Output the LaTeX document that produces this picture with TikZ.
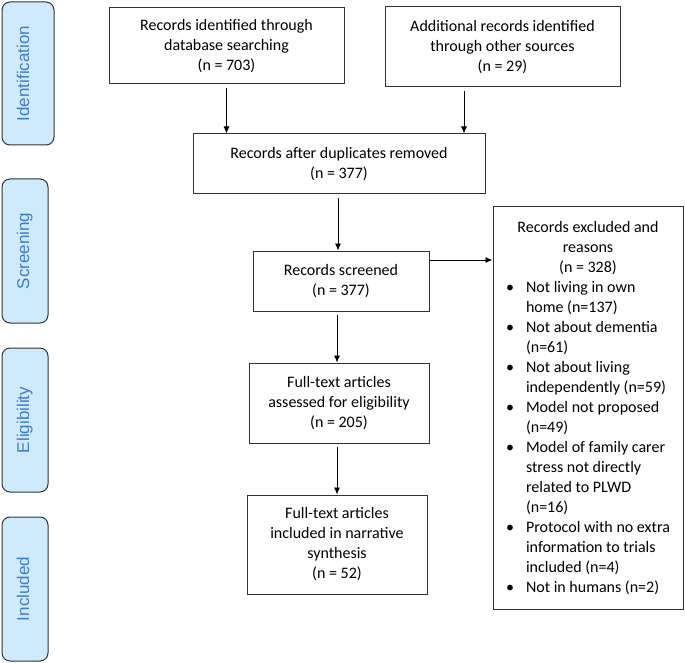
\documentclass[tikz,border=0pt]{standalone}
\usepackage{fontspec}
\setmainfont{Carlito}
\newfontfamily\pillfont{Liberation Sans}
\usetikzlibrary{arrows.meta,calc}
\definecolor{pillfill}{HTML}{CFEAFC}
\definecolor{pilltxt}{HTML}{3E7EC6}
\definecolor{edge}{HTML}{333333}
\begin{document}
\begin{tikzpicture}[x=1pt,y=1pt,
  box/.style={draw=edge, line width=1pt, align=center, font=\fontsize{16}{20}\selectfont, inner sep=0pt},
  pill/.style={draw=edge, fill=pillfill, rounded corners=8pt, line width=1pt},
  pilltext/.style={text=pilltxt, font=\pillfont\fontsize{17}{20}\selectfont, rotate=90, anchor=base, inner sep=0pt},
  arr/.style={-{Latex[length=7pt,width=6pt]}, line width=0.9pt, shorten <=3.5pt}]
\useasboundingbox (0,0) rectangle (685,-663);

% phase pills
\node[pill, minimum width=52, minimum height=143] (pid) at (28,-73.5) {};
\node[pilltext] (tid) at (29,-73.5) {Identification};
\node[pill, minimum width=46, minimum height=144] (pscr) at (25,-251) {};
\node[pilltext] (tscr) at (29,-251) {Screening};
\node[pill, minimum width=46, minimum height=144] (pel) at (25,-420) {};
\node[pilltext] (tel) at (29,-420) {Eligibility};
\node[pill, minimum width=46, minimum height=144] (pinc) at (25,-589) {};
\node[pilltext] (tinc) at (29,-589) {Included};

% boxes
\node[box, minimum width=235, minimum height=76] (b1) at (226.5,-46)
  {Records identified through\\database searching\\(n = 703)};
\node[box, minimum width=235, minimum height=80] (b2) at (502.5,-47)
  {Additional records identified\\through other sources\\(n = 29)};
\node[box, minimum width=292, minimum height=60] (b3) at (339,-164)
  {Records after duplicates removed\\(n = 377)};
\node[box, minimum width=176, minimum height=60] (scr) at (341,-281)
  {Records screened\\(n = 377)};
\node[box, minimum width=180, minimum height=80] (ass) at (339,-403)
  {Full-text articles\\assessed for eligibility\\(n = 205)};
\node[box, minimum width=180, minimum height=99] (inc) at (337,-544.5)
  {Full-text articles\\included in narrative\\synthesis\\(n = 52)};
\node[box, minimum width=190, minimum height=402] (excl) at (588,-408)
  {\fontsize{16}{20}\selectfont
   \begin{tabular}{@{}p{20pt}@{}l@{}}
   \multicolumn{2}{@{}c@{}}{Records excluded and}\\
   \multicolumn{2}{@{}c@{}}{reasons}\\
   \multicolumn{2}{@{}c@{}}{(n = 328)}\\
   \textbullet & Not living in own\\
               & home (n=137)\\
   \textbullet & Not about dementia\\
               & (n=61)\\
   \textbullet & Not about living\\
               & independently (n=59)\\
   \textbullet & Model not proposed\\
               & (n=49)\\
   \textbullet & Model of family carer\\
               & stress not directly\\
               & related to PLWD\\
               & (n=16)\\
   \textbullet & Protocol with no extra\\
               & information to trials\\
               & included (n=4)\\
   \textbullet & Not in humans (n=2)
   \end{tabular}};

% connectors
\draw[arr] (b1.south) -- (b1.south |- b3.north);
\draw[arr] ([xshift=-38.5pt]b2.south) -- ([xshift=-38.5pt]b2.south |- b3.north);
\draw[arr] ([xshift=-1pt]b3.south) -- ([xshift=-1pt]b3.south |- scr.north);
\draw[arr] (scr.south -| inc.north) -- (ass.north -| inc.north);
\draw[arr] (ass.south -| inc.north) -- (inc.north);
\draw[arr, shorten <=0pt] ([yshift=21pt]scr.east) -- ([yshift=21pt]scr.east -| excl.west);
\end{tikzpicture}
\end{document}
